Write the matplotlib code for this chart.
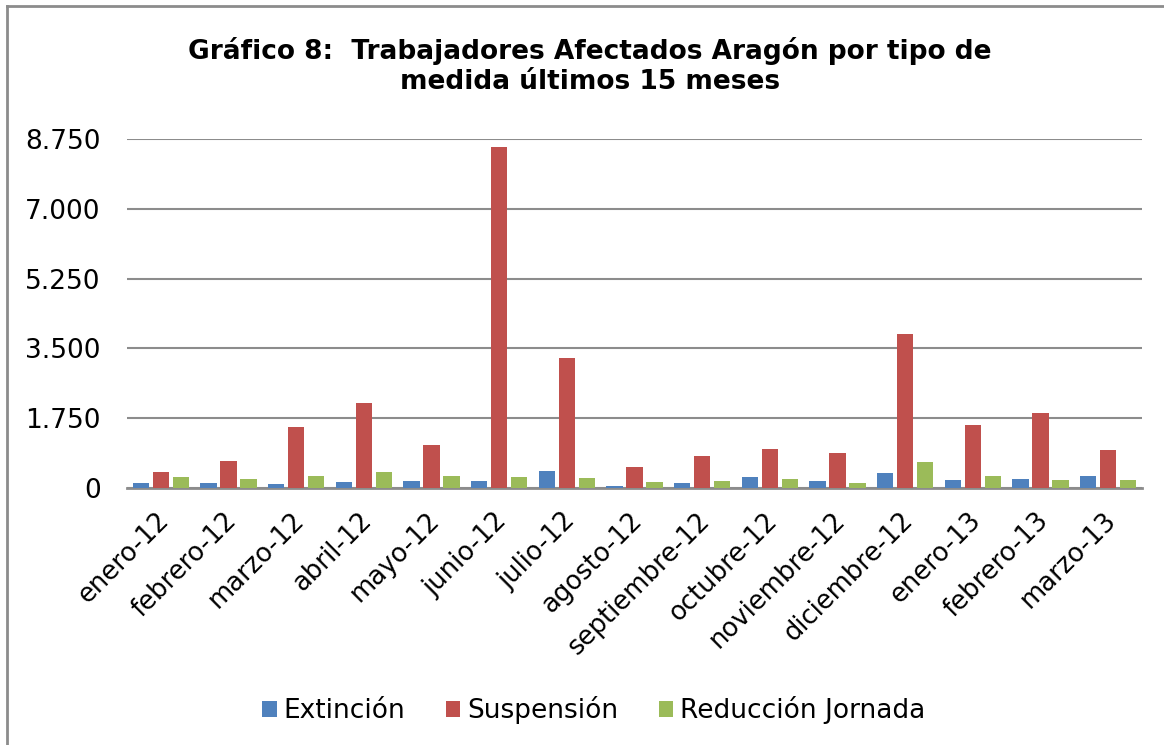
import numpy as np
import matplotlib
matplotlib.use("Agg")
import matplotlib.pyplot as plt
import matplotlib.transforms as mtransforms
from matplotlib.ticker import FuncFormatter

meses = ["enero-12", "febrero-12", "marzo-12", "abril-12", "mayo-12", "junio-12",
         "julio-12", "agosto-12", "septiembre-12", "octubre-12", "noviembre-12",
         "diciembre-12", "enero-13", "febrero-13", "marzo-13"]
extincion = [125, 125, 110, 140, 175, 175, 425, 60, 125, 280, 165, 375, 200, 225, 290]
suspension = [400, 665, 1540, 2130, 1090, 8560, 3250, 530, 810, 990, 865, 3850, 1575, 1875, 965]
reduccion = [265, 225, 300, 400, 290, 275, 240, 140, 180, 215, 125, 655, 310, 200, 190]

fig = plt.figure(figsize=(11.64, 7.45), dpi=100)
ax = fig.add_axes([127 / 1164, 1 - 488 / 745, (1142 - 127) / 1164, (488 - 139) / 745])

x = np.arange(len(meses))
w = 0.24
step = 0.295
kw = dict(width=w, zorder=3)
ax.bar(x - step, extincion, color="#4F81BD", label="Extinción", **kw)
ax.bar(x, suspension, color="#C0504D", label="Suspensión", **kw)
ax.bar(x + step, reduccion, color="#9BBB59", label="Reducción Jornada", **kw)

ax.set_xlim(-0.5, len(meses) - 0.5)
ax.set_ylim(0, 8750)
ax.set_yticks([0, 1750, 3500, 5250, 7000, 8750])
ax.yaxis.set_major_formatter(FuncFormatter(lambda v, p: f"{int(v):,}".replace(",", ".")))
ax.grid(axis="y", color="#8c8c8c", linewidth=1.5, zorder=0)
for s in ["top", "right", "left"]:
    ax.spines[s].set_visible(False)
ax.spines["bottom"].set_color("#8c8c8c")
ax.spines["bottom"].set_linewidth(2)
ax.tick_params(axis="y", length=0, pad=19, labelsize=19)
ax.tick_params(axis="x", length=0, pad=14, labelsize=18.6)
ax.set_xticks(x)
ax.set_xticklabels(meses, rotation=45, ha="right", rotation_mode="anchor")
shift = mtransforms.ScaledTranslation(-5 / 100, 0, fig.dpi_scale_trans)
for lbl in ax.get_xticklabels():
    lbl.set_transform(lbl.get_transform() + shift)

fig.text(0.507, 0.912, "Gráfico 8:  Trabajadores Afectados Aragón por tipo de\nmedida últimos 15 meses",
         ha="center", va="center", fontsize=19, fontweight="bold", linespacing=1.2)

fig.legend(loc="center", bbox_to_anchor=(0.51, 0.047), ncol=3, frameon=False,
           fontsize=19, handlelength=0.55, handleheight=0.55, handletextpad=0.25,
           columnspacing=1.55)

# outer chart frame
fig.add_artist(plt.Line2D([7 / 1164, 7 / 1164], [0, 1 - 6 / 745], color="#8c8c8c", lw=2,
                          transform=fig.transFigure))
fig.add_artist(plt.Line2D([7 / 1164, 1], [1 - 6 / 745, 1 - 6 / 745], color="#8c8c8c", lw=2,
                          transform=fig.transFigure))

fig.savefig("out.png", dpi=100)
